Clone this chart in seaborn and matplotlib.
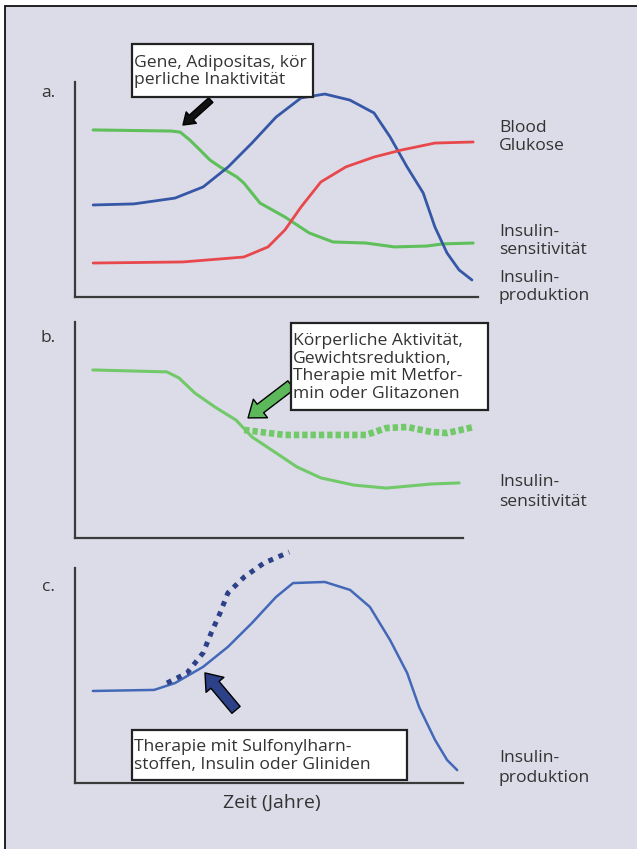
import numpy as np
import pandas as pd
import matplotlib
matplotlib.use("Agg")
import matplotlib.pyplot as plt
import seaborn as sns
from matplotlib.patches import Rectangle

# ---- data (time 0-100, level 0-100) ----
# panel a
t_glukose_a = [4.5, 26.8, 41.9, 47.9, 52.1, 56.1, 61.0, 67.2, 74.2, 81.1, 89.3, 98.8]
v_glukose_a = [15.8, 16.3, 18.6, 23.3, 31.2, 41.9, 53.5, 60.5, 65.1, 68.4, 71.6, 72.1]

t_sens_a = [4.5, 23.8, 26.1, 28.5, 31.0, 33.5, 36.0, 40.2, 41.9, 45.9, 52.1, 58.1, 64.0,
            72.2, 79.2, 87.3, 91.3, 98.8]
v_sens_a = [77.7, 77.2, 76.7, 73.0, 68.4, 63.7, 60.5, 55.8, 53.0, 43.7, 37.2, 29.8, 25.6,
            25.1, 23.3, 23.7, 24.7, 25.1]

t_prod_a = [4.5, 14.6, 24.8, 31.8, 38.0, 43.9, 49.9, 56.1, 62.0, 68.2, 74.2, 78.2,
            82.4, 86.4, 89.3, 92.3, 95.3, 98.5]
v_prod_a = [42.8, 43.3, 46.0, 51.2, 60.5, 71.6, 83.7, 92.6, 94.4, 91.6, 85.6, 74.4,
            60.5, 48.4, 32.6, 20.5, 12.6, 7.9]

# panel b
t_sens_b = [4.6, 23.7, 26.8, 30.9, 36.1, 41.5, 45.6, 51.8, 57.2, 63.4, 71.9, 80.2, 91.8, 99.0]
v_sens_b = [77.8, 76.9, 74.1, 67.1, 60.6, 54.6, 46.8, 39.4, 32.9, 27.8, 24.5, 23.1, 25.0, 25.5]
t_sens_b_ther = [43.6, 54.1, 75.0, 80.2, 85.6, 91.8, 95.9, 102.8]
v_sens_b_ther = [50.0, 47.7, 47.7, 50.9, 51.4, 49.1, 48.6, 51.4]

# panel c
t_prod_c = [4.6, 20.4, 25.8, 33.0, 39.4, 45.6, 51.8, 56.2, 64.4, 70.9, 76.0, 81.2,
            85.6, 88.7, 92.8, 95.9, 98.5]
v_prod_c = [42.8, 43.3, 46.5, 54.0, 63.3, 74.4, 86.5, 93.0, 93.5, 89.8, 81.9, 66.5,
            51.2, 35.3, 20.0, 10.7, 6.0]
t_prod_c_ther = [23.7, 28.9, 33.0, 35.1, 37.4, 39.4, 43.6, 48.7, 55.2]
v_prod_c_ther = [46.5, 51.2, 60.5, 69.8, 79.1, 88.4, 95.8, 102.3, 107.4]

box_texts = ["Gene, Adipositas, kör\nperliche Inaktivität",
             "Körperliche Aktivität,\nGewichtsreduktion,\nTherapie mit Metfor-\nmin oder Glitazonen",
             "Therapie mit Sulfonylharn-\nstoffen, Insulin oder Gliniden"]

W, H = 637, 849
BG = "#dbdce8"
GREEN = "#5fbf5a"
GREEN_B = "#72c96a"
BLUE = "#3557a6"
BLUE_C = "#4468b8"
NAVY = "#2c4188"
RED = "#e8484c"
TXT = "#333333"

sns.set_style("white")
plt.rcParams['font.family'] = ['Open Sans', 'DejaVu Sans']


def fx(px):
    return px / W


def fy(py):
    return 1 - py / H


fig = plt.figure(figsize=(6.37, 8.49), dpi=100)
fig.patch.set_facecolor("white")
fig.add_artist(Rectangle((fx(5), fy(H + 10)), 1.0, fy(6) - fy(H + 10), transform=fig.transFigure,
                         facecolor=BG, edgecolor="#111111", lw=1.3, zorder=0))


def make_axes(left, right, top, bottom):
    ax = fig.add_axes([fx(left), fy(bottom), fx(right) - fx(left), fy(top) - fy(bottom)])
    ax.set_xlim(0, 100)
    ax.set_ylim(0, 100)
    ax.set_facecolor("none")
    for s in ["top", "right"]:
        ax.spines[s].set_visible(False)
    for s in ["left", "bottom"]:
        ax.spines[s].set_color("#3a3a3a")
        ax.spines[s].set_linewidth(1.6)
    ax.set_xticks([])
    ax.set_yticks([])
    return ax


ax_a = make_axes(75, 478, 82, 297)
ax_b = make_axes(75, 463, 322, 538)
ax_c = make_axes(75, 463, 568, 783)

# panel a curves
sns.lineplot(x=t_sens_a, y=v_sens_a, ax=ax_a, color=GREEN, lw=2.2, sort=False)
sns.lineplot(x=t_prod_a, y=v_prod_a, ax=ax_a, color=BLUE, lw=2.0, sort=False)
sns.lineplot(x=t_glukose_a, y=v_glukose_a, ax=ax_a, color=RED, lw=2.0, sort=False)

# panel b curves
sns.lineplot(x=t_sens_b, y=v_sens_b, ax=ax_b, color=GREEN_B, lw=2.2, sort=False)
sns.lineplot(x=t_sens_b_ther, y=v_sens_b_ther, ax=ax_b, color=GREEN_B, lw=4.8, sort=False,
             linestyle=(0, (0.8, 0.45)), clip_on=False)

# panel c curves
sns.lineplot(x=t_prod_c, y=v_prod_c, ax=ax_c, color=BLUE_C, lw=1.8, sort=False)
sns.lineplot(x=t_prod_c_ther, y=v_prod_c_ther, ax=ax_c, color=NAVY, lw=3.6, sort=False,
             linestyle=(0, (1.0, 1.2)), clip_on=False)


# arrows
def fat_arrow(ax, tail, head, fc, scale, tw, hw, hl):
    ax.annotate("", xy=head, xytext=tail, annotation_clip=False,
                arrowprops=dict(arrowstyle=f"simple,head_width={hw},head_length={hl},tail_width={tw}",
                                fc=fc, ec="black", lw=1.0, shrinkA=0, shrinkB=0,
                                mutation_scale=scale))


fat_arrow(ax_a, (33.7, 91.6), (26.8, 80.0), "#111111", 10, 0.45, 1.1, 0.8)
fat_arrow(ax_b, (55.7, 70.8), (44.6, 55.6), "#5cb85a", 14, 0.55, 1.2, 0.8)
fat_arrow(ax_c, (41.5, 34.0), (33.5, 51.2), NAVY, 14, 0.55, 1.2, 0.8)

# annotation boxes
boxes = [(132, 44, 313, 97), (291, 323, 488, 410), (132, 730, 407, 780)]
box_spacing = [1.1, 1.15, 1.1]
for (x0, y0, x1, y1), txt, ls in zip(boxes, box_texts, box_spacing):
    fig.add_artist(Rectangle((fx(x0), fy(y1)), fx(x1) - fx(x0), fy(y0) - fy(y1),
                             transform=fig.transFigure, facecolor="white",
                             edgecolor="#222222", lw=1.6, zorder=5))
    fig.text(fx(x0 + 2), fy((y0 + y1) / 2 + 1), txt, ha="left", va="center", fontsize=12.6,
             color=TXT, linespacing=ls, zorder=6)

# panel letters
for lbl, py in [("a.", 93), ("b.", 338), ("c.", 587)]:
    fig.text(fx(48), fy(py), lbl, ha="center", va="center", fontsize=12.5, color=TXT)

# right-side labels
right_labels = [("Blood\nGlukose", 137), ("Insulin-\nsensitivität", 241), ("Insulin-\nproduktion", 287),
                ("Insulin-\nsensitivität", 492), ("Insulin-\nproduktion", 768)]
for txt, py in right_labels:
    fig.text(fx(499), fy(py), txt, ha="left", va="center", fontsize=12.6, color=TXT,
             linespacing=1.25)

fig.text(fx(272), fy(803), "Zeit (Jahre)", ha="center", va="center", fontsize=14, color=TXT)

fig.savefig("out.png", dpi=100, facecolor=fig.get_facecolor())
